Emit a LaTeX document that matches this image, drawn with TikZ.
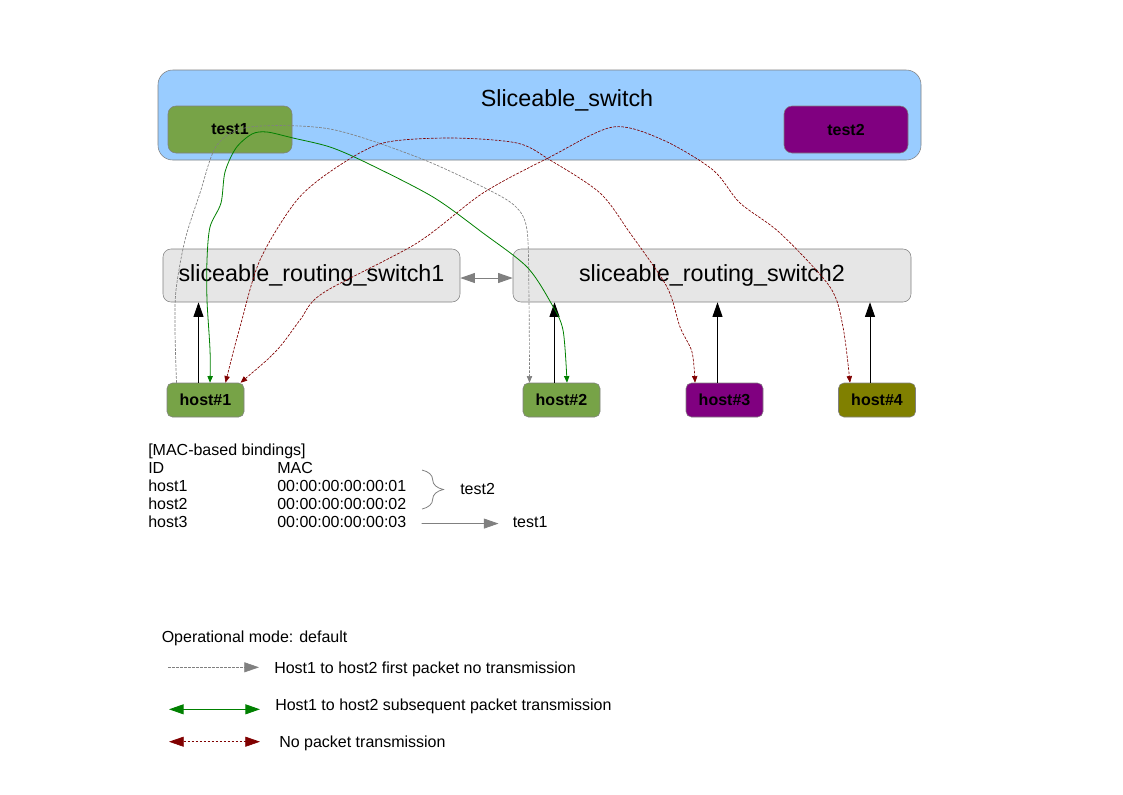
\documentclass[tikz,border=0pt]{standalone}
\usepackage{fontspec}
\setmainfont{Liberation Sans}
\usetikzlibrary{arrows.meta,calc,decorations.pathreplacing}
\definecolor{skyfill}{HTML}{99CCFF}
\definecolor{leafgreen}{HTML}{77A347}
\definecolor{plum}{HTML}{800080}
\definecolor{olivebox}{HTML}{808000}
\definecolor{lightbox}{HTML}{E6E6E6}
\definecolor{edgegray}{HTML}{808080}
\definecolor{darkred}{HTML}{800000}
\definecolor{pathgreen}{HTML}{008000}
\begin{document}
\begin{tikzpicture}[x=0.75pt,y=-0.75pt,
    slicebox/.style={draw=edgegray,rounded corners=6pt,font=\bfseries\fontsize{12}{14}\selectfont,minimum width=93pt,minimum height=35.25pt},
    routebox/.style={draw=edgegray,fill=lightbox,rounded corners=6pt,font=\fontsize{17.5}{20}\selectfont,minimum height=39.75pt},
    hostbox/.style={draw=edgegray,rounded corners=4pt,font=\bfseries\fontsize{12}{14}\selectfont,minimum width=57.75pt,minimum height=25.5pt},
    txt/.style={anchor=base west,inner sep=0pt,font=\fontsize{12}{14}\selectfont},
    bigtip/.tip={Triangle[length=11pt,width=7.5pt]},
    smalltip/.tip={Triangle[length=5pt,width=4pt]},
    uplink/.style={-bigtip,black,line width=0.75pt},
    firstpkt/.style={edgegray,line width=0.5pt,dash pattern=on 2pt off 1pt},
    nextpkt/.style={pathgreen,line width=0.6pt},
    nopkt/.style={darkred,line width=0.5pt,dash pattern=on 2pt off 1pt}]
  \useasboundingbox (0,0) rectangle (1123,794);
  \node[draw=edgegray,fill=skyfill,rounded corners=11pt,minimum width=572.25pt,minimum height=67.5pt] (sw) at (539.5,115) {};
  \node[font=\fontsize{17.5}{20}\selectfont] (swname) at (567,100) {Sliceable\_switch};
  \node[slicebox,fill=leafgreen] (t1) at (230,129.5) {test1};
  \node[slicebox,fill=plum] (t2) at (846,129.5) {test2};
  \node[routebox,minimum width=222.75pt] (rs1) at (311.5,275.5) {sliceable\_routing\_switch1};
  \node[routebox,minimum width=298.5pt] (rs2) at (712,275.5) {sliceable\_routing\_switch2};
  \node[hostbox,fill=leafgreen] (h1) at (205.5,400) {host\#1};
  \node[hostbox,fill=leafgreen] (h2) at (561.5,400) {host\#2};
  \node[hostbox,fill=plum] (h3) at (724.5,400) {host\#3};
  \node[hostbox,fill=olivebox] (h4) at (877,400) {host\#4};
  \node[txt] (bhead) at (148,455) {[MAC-based bindings]};
  \node[txt] (bid) at (148,473) {ID};
  \node[txt] (bmac) at (277,473) {MAC};
  \node[txt] (bh1) at (148,491) {host1};
  \node[txt] (bh2) at (148,509) {host2};
  \node[txt] (bh3) at (148,527) {host3};
  \node[txt] (bm1) at (277,491) {00:00:00:00:00:01};
  \node[txt] (bm2) at (277,509) {00:00:00:00:00:02};
  \node[txt] (bm3) at (277,527) {00:00:00:00:00:03};
  \node[txt] (bt2) at (460,494) {test2};
  \node[txt] (bt1) at (512.5,527) {test1};
  \coordinate (brtop) at (422,470);
  \coordinate (brbot) at (422,509);
  \node[txt] (mode) at (161.5,642) {Operational mode: default};
  \node[txt] (lg1) at (274,673) {Host1 to host2 first packet no transmission};
  \node[txt] (lg2) at (275,710) {Host1 to host2 subsequent packet transmission};
  \node[txt] (lg3) at (279,747) {No packet transmission};
  \coordinate (lg1s) at (168,667.3);
  \coordinate (lg1e) at (259,667.3);
  \coordinate (lg2s) at (169,709.3);
  \coordinate (lg2e) at (260,709.3);
  \coordinate (lg3s) at (169,741.7);
  \coordinate (lg3e) at (260,741.7);
  \begin{scope}
    \foreach \h/\r in {h1/rs1,h2/rs2,h3/rs2,h4/rs2}
      \draw[uplink] ([xshift=-5.25pt]\h.north) -- ([xshift=-5.25pt]\h.north |- \r.south);
    \draw[edgegray,line width=0.75pt,bigtip-bigtip] ($(rs1.east)+(0,2.5)$) -- ($(rs2.west)+(0,2.5)$);
    \draw[firstpkt,-smalltip] plot[smooth,tension=0.5] coordinates {($(h1.north)+(-29,0)$) (175,330) (176,290) (185,240) (200,193) (217,145) (250,127) (330,129) (417,157) (483,187) (515,206) (527,230) (529,300) ($(h2.north)+(-32,0)$)};
    \draw[nextpkt,smalltip-smalltip] plot[smooth,tension=0.5] coordinates {($(h1.north)+(4.5,0)$) (210,350) (207,300) (207,260) (210,227) (221,203) (225,172) (236,148) (252,134) (267,132) (293,138) (330,147) (367,163) (433,197) (483,233) (527,267) (551,303) (563,330) ($(h2.north)+(5.5,0)$)};
    \draw[nopkt,smalltip-smalltip] plot[smooth,tension=0.5] coordinates {($(h1.north)+(20,0)$) (240,327) (260,260) (297,200) (337,167) (383,143) (450,138) (517,143) (550,160) (600,193) (630,233) (667,287) (680,327) (692,352) ($(h3.north)+(-29.5,0)$)};
    \draw[nopkt,smalltip-smalltip] plot[smooth,tension=0.5] coordinates {($(h1.north)+(35,0)$) (277,350) (300,320) (323,293) (417,243) (483,193) (550,157) (613,127) (663,140) (713,170) (740,203) (780,233) (830,287) (843,327) ($(h4.north)+(-27,0)$)};
    \draw[edgegray,line width=0.6pt,decorate,decoration={brace,amplitude=16pt}] (brtop) -- (brbot);
    \draw[edgegray,line width=0.6pt,-bigtip] ($(bm3.east)+(15,2)$) -- ($(bt1.west)+(-14,2)$);
    \draw[firstpkt,-bigtip] (lg1s) -- (lg1e);
    \draw[nextpkt,line width=0.75pt,bigtip-bigtip] (lg2s) -- (lg2e);
    \draw[nopkt,bigtip-bigtip] (lg3s) -- (lg3e);
  \end{scope}
\end{tikzpicture}
\end{document}
